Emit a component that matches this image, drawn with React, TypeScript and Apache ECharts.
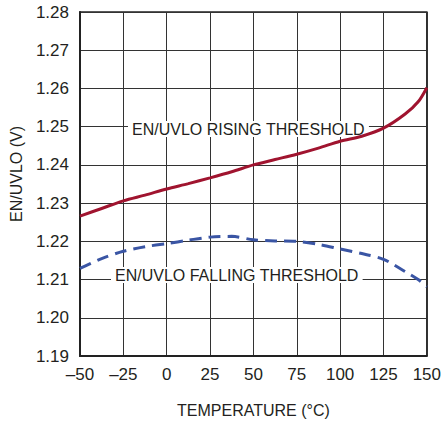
import React, { useEffect, useRef } from "react";
import * as echarts from "echarts";

// Temperature sample points (°C)
const temperatures = [-50, -37.5, -25, -12.5, 0, 12.5, 25, 37.5, 50, 62.5, 75, 87.5, 100, 112.5, 125, 137.5, 145, 150];

// EN/UVLO rising threshold (V)
const risingThreshold = [1.2266, 1.2286, 1.2306, 1.2321, 1.2337, 1.2351, 1.2366, 1.2382, 1.2400, 1.2414, 1.2428, 1.2444, 1.2462, 1.2475, 1.2496, 1.2533, 1.2565, 1.2602];

// EN/UVLO falling threshold (V)
const fallingThreshold = [1.2129, 1.2155, 1.2174, 1.2186, 1.2194, 1.2203, 1.2211, 1.2213, 1.2204, 1.2201, 1.2200, 1.2192, 1.2180, 1.2168, 1.2153, 1.2121, 1.2100, 1.2081];

const seriesNames = ["EN/UVLO RISING THRESHOLD", "EN/UVLO FALLING THRESHOLD"];
const xTitle = "TEMPERATURE (°C)";
const yTitle = "EN/UVLO (V)";

const FONT = "'Liberation Sans', Arial, Helvetica, sans-serif";
const TEXT = "#231f20";
const GRID = "#333333";

export default function App() {
  const ref = useRef<HTMLDivElement>(null);

  useEffect(() => {
    if (!ref.current) return;
    const chart = echarts.init(ref.current, undefined, { renderer: "svg" });
    const pair = (ys: number[]) => temperatures.map((t, i) => [t, ys[i]]);

    chart.setOption({
      animation: false,
      backgroundColor: "#ffffff",
      textStyle: { fontFamily: FONT, color: TEXT },
      grid: {
        left: 79,
        right: 13,
        top: 12,
        bottom: 59,
        show: true,
        borderColor: "#222222",
        borderWidth: 1.5,
      },
      xAxis: {
        type: "value",
        min: -50,
        max: 150,
        interval: 25,
        name: xTitle,
        nameLocation: "middle",
        nameGap: 46,
        nameTextStyle: { fontFamily: FONT, fontSize: 16, color: TEXT },
        axisLine: { show: true, onZero: false, lineStyle: { color: "#222222", width: 2 } },
        axisTick: { show: false },
        axisLabel: {
          fontFamily: FONT,
          fontSize: 17,
          color: TEXT,
          margin: 10,
          formatter: (v: number) => (v < 0 ? "\u2013" + Math.abs(v) : String(v)),
        },
        splitLine: { show: true, lineStyle: { color: GRID, width: 1 } },
      },
      yAxis: {
        type: "value",
        min: 1.19,
        max: 1.28,
        interval: 0.01,
        name: yTitle,
        nameLocation: "middle",
        nameGap: 56,
        nameTextStyle: { fontFamily: FONT, fontSize: 16, color: TEXT, padding: [0, 0, 0, 20] },
        axisLine: { show: true, onZero: false, lineStyle: { color: "#222222", width: 2 } },
        axisTick: { show: false },
        axisLabel: {
          fontFamily: FONT,
          fontSize: 17,
          color: TEXT,
          margin: 11,
          formatter: (v: number) => v.toFixed(2),
        },
        splitLine: { show: true, lineStyle: { color: GRID, width: 1 } },
      },
      series: [
        {
          name: seriesNames[0],
          type: "line",
          data: pair(risingThreshold),
          smooth: 0.3,
          showSymbol: false,
          lineStyle: { color: "#a0142f", width: 3 },
          z: 3,
        },
        {
          name: seriesNames[1],
          type: "line",
          data: pair(fallingThreshold),
          smooth: 0.3,
          showSymbol: false,
          lineStyle: { color: "#3a55a4", width: 3, type: [12, 7] },
          z: 3,
        },
      ],
      graphic: [
        {
          type: "text",
          left: 128,
          top: 121,
          z: 1,
          style: {
            text: seriesNames[0],
            font: `16px ${FONT}`,
            fill: TEXT,
            backgroundColor: "#ffffff",
            padding: [0, 4, 0, 4],
          },
        },
        {
          type: "text",
          left: 111,
          top: 267,
          z: 1,
          style: {
            text: seriesNames[1],
            font: `16px ${FONT}`,
            fill: TEXT,
            backgroundColor: "#ffffff",
            padding: [0, 4, 0, 4],
          },
        },
      ],
    });

    return () => chart.dispose();
  }, []);

  return (
    <div
      ref={ref}
      style={{ position: "fixed", left: 0, top: 0, width: 444, height: 423 }}
    />
  );
}
